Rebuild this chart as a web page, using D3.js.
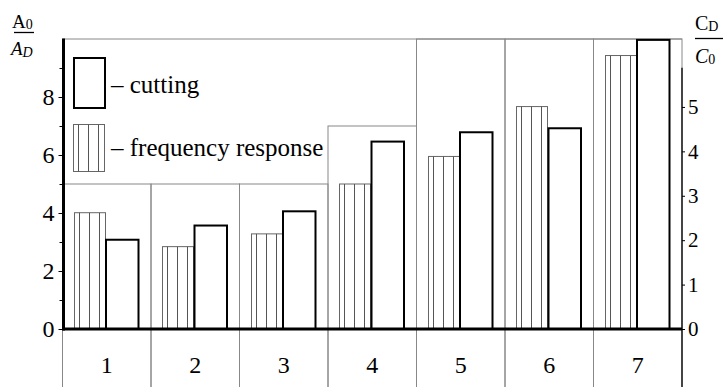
<!DOCTYPE html>
<html lang="en">
<head>
<meta charset="UTF-8">
<script src="https://d3js.org/d3.v7.min.js"></script>
<title>Chart</title>
</head>
<body style="margin:0; background:#fff">
<svg id="chart" width="723" height="387"></svg>
<script>

// data
const categories = ["1", "2", "3", "4", "5", "6", "7"];
const freqResponse = [4.01, 2.84, 3.28, 5.0, 5.95, 7.67, 9.43];   // left axis, A0/AD
const cutting = [2.01, 2.33, 2.65, 4.22, 4.43, 4.52, 6.51];        // right axis, CD/C0
const frameTop = [5, 5, 5, 7, 10, 10, 10];                         // staircase of the grid cells
const leftTicks = [0, 2, 4, 6, 8];
const leftMinor = [1, 3, 5, 7, 9];
const rightTicks = [0, 1, 2, 3, 4, 5];

const serif = "Liberation Serif";
const svg = d3.select("svg#chart").attr("font-family", serif);
const height = +svg.attr("height");
const x0 = 62.5, x1 = 682;
const yZero = 329, yTop = 39;

const xScale = d3.scaleBand().domain(categories).range([x0, x1]).padding(0);
const inner = d3.scaleBand().domain(["freq", "cut"]).range([11, 76]).padding(0);
const yL = d3.scaleLinear().domain([0, 10]).range([yZero, yTop]);
const yR = d3.scaleLinear().domain([0, 6.53]).range([yZero, yTop]);

// grid cells
const grid = svg.append("g").attr("id", "grid");
grid.append("line")
    .attr("x1", x0).attr("x2", x1)
    .attr("y1", yL(10)).attr("y2", yL(10))
    .attr("stroke", "#888").attr("stroke-width", 1);
grid.selectAll("rect")
    .data(categories)
    .join("rect")
    .attr("x", d => xScale(d))
    .attr("y", (d, i) => yL(frameTop[i]))
    .attr("width", xScale.bandwidth())
    .attr("height", (d, i) => height + 5 - yL(frameTop[i]))
    .attr("fill", "none")
    .attr("stroke", "#888")
    .attr("stroke-width", 1);

// frequency response bars (hatched)
const bars = svg.append("g").attr("id", "bars");
function hatched(g, x, y, w, h) {
  g.append("rect")
    .attr("x", x).attr("y", y).attr("width", w).attr("height", h)
    .attr("fill", "#fff").attr("stroke", "#666").attr("stroke-width", 1);
  for (let lx = x + 5; lx < x + w - 3; lx += 10) {
    g.append("line")
      .attr("x1", lx).attr("x2", lx)
      .attr("y1", y).attr("y2", y + h)
      .attr("stroke", "#555").attr("stroke-width", 1);
  }
}
categories.forEach((c, i) => {
  const bx = Math.round(xScale(c) + inner("freq")) + 0.5;
  const by = yL(freqResponse[i]);
  hatched(bars, bx, by, inner.bandwidth() - 1.5, yL(0) - by);
});

// cutting bars (outlined)
bars.selectAll("rect.cut")
    .data(cutting)
    .join("rect")
    .attr("class", "cut")
    .attr("x", (d, i) => xScale(categories[i]) + inner("cut"))
    .attr("y", d => yR(d))
    .attr("width", inner.bandwidth())
    .attr("height", d => yR(0) - yR(d))
    .attr("fill", "#fff")
    .attr("stroke", "#000")
    .attr("stroke-width", 2);

// baseline
svg.append("line")
    .attr("x1", x0).attr("x2", x1)
    .attr("y1", yZero).attr("y2", yZero)
    .attr("stroke", "#000").attr("stroke-width", 3);

// left axis
const leftAxis = svg.append("g")
    .attr("transform", "translate(63.5,0)")
    .call(d3.axisLeft(yL).tickValues(leftTicks).tickSize(5).tickPadding(4).tickSizeOuter(0));
leftAxis.attr("font-family", serif).attr("font-size", 24);
leftAxis.selectAll("text").attr("fill", "#000");
leftAxis.select(".domain").remove();
const leftMinorAxis = svg.append("g")
    .attr("transform", "translate(63.5,0)")
    .call(d3.axisLeft(yL).tickValues(leftMinor).tickSize(4).tickFormat(""));
leftMinorAxis.select(".domain").remove();
svg.append("line")
    .attr("x1", 63.5).attr("x2", 63.5)
    .attr("y1", yTop - 0.5).attr("y2", yZero + 1.5)
    .attr("stroke", "#000").attr("stroke-width", 3);

// right axis
const rightAxis = svg.append("g")
    .attr("transform", `translate(${x1},0)`)
    .call(d3.axisRight(yR).tickValues(rightTicks).tickFormat(d3.format("d"))
      .tickSize(3).tickPadding(3).tickSizeOuter(0));
rightAxis.attr("font-family", serif).attr("font-size", 21);
rightAxis.selectAll("text").attr("fill", "#000");
rightAxis.select(".domain").remove();
svg.append("line")
    .attr("x1", x1).attr("x2", x1)
    .attr("y1", yR(5.88)).attr("y2", height)
    .attr("stroke", "#000").attr("stroke-width", 1.3);

// category labels
svg.append("g").selectAll("text")
    .data(categories)
    .join("text")
    .attr("x", d => xScale(d) + xScale.bandwidth() / 2)
    .attr("y", 373)
    .attr("text-anchor", "middle")
    .attr("font-family", serif)
    .attr("font-size", 24)
    .text(d => d);

// legend
const legend = svg.append("g").attr("id", "legend").attr("font-family", serif);
legend.append("rect")
    .attr("x", 74).attr("y", 58).attr("width", 31).attr("height", 50)
    .attr("fill", "#fff").attr("stroke", "#000").attr("stroke-width", 2);
legend.append("text").attr("x", 111).attr("y", 93)
    .attr("font-size", 25).text("– cutting");
hatched(legend, 73.5, 124.5, 31, 47);
legend.append("text").attr("x", 111).attr("y", 156)
    .attr("font-size", 25).text("– frequency response");

// axis titles
const lt = svg.append("g").attr("font-family", serif);
lt.append("text").attr("x", 12).attr("y", 28).attr("font-size", 19)
  .text("A").append("tspan").attr("dy", 1).attr("font-size", 14).text("0");
lt.append("line").attr("x1", 14).attr("x2", 34).attr("y1", 32.5).attr("y2", 32.5)
  .attr("stroke", "#000").attr("stroke-width", 1.3);
lt.append("text").attr("x", 11).attr("y", 55).attr("font-size", 19).attr("font-style", "italic")
  .text("A").append("tspan").attr("dy", 2).attr("font-size", 14).text("D");

const rt = svg.append("g").attr("font-family", serif);
rt.append("text").attr("x", 695).attr("y", 30).attr("font-size", 20)
  .text("C").append("tspan").attr("dy", 1).attr("font-size", 14).text("D");
rt.append("line").attr("x1", 695).attr("x2", 725).attr("y1", 38.5).attr("y2", 38.5)
  .attr("stroke", "#000").attr("stroke-width", 1.3);
const c0 = rt.append("text").attr("x", 695).attr("y", 63).attr("font-size", 20);
c0.append("tspan").attr("font-style", "italic").text("C");
c0.append("tspan").attr("dy", 1).attr("font-size", 14).text("0");

</script>
</body>
</html>
